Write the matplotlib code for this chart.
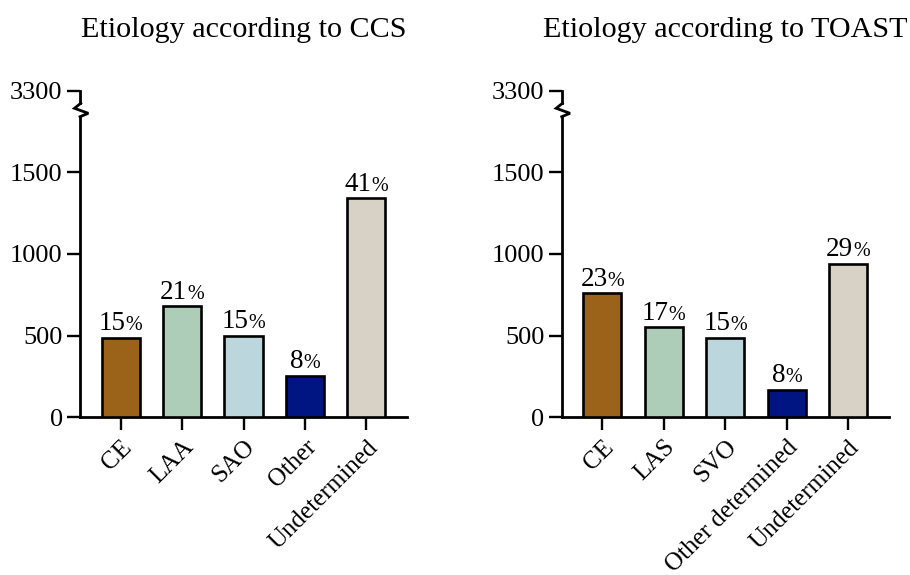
import matplotlib
matplotlib.use('Agg')
import matplotlib.pyplot as plt
from matplotlib.offsetbox import TextArea, HPacker, AnnotationBbox
from matplotlib.lines import Line2D

plt.rcParams['font.family'] = ['Liberation Serif', 'DejaVu Serif']

ccs_labels = ['CE', 'LAA', 'SAO', 'Other', 'Undetermined']
ccs_counts = [487, 679, 499, 255, 1342]
ccs_pct = ['15', '21', '15', '8', '41']

toast_labels = ['CE', 'LAS', 'SVO', 'Other determined', 'Undetermined']
toast_counts = [759, 550, 488, 170, 941]
toast_pct = ['23', '17', '15', '8', '29']

colors = ['#9b621a', '#aecdb9', '#bcd6de', '#001482', '#d8d1c5']

W, H = 910, 575
fig = plt.figure(figsize=(W / 100, H / 100), dpi=100)

LW = 2.0
FS = 19


def panel(x_px, title, labels, counts, pct):
    w_px = 327
    y0 = 1 - 417.3 / H
    y1 = 1 - 116.7 / H
    ax = fig.add_axes([x_px / W, y0, w_px / W, y1 - y0])
    ax.bar(range(len(counts)), counts, width=0.62, color=colors,
           edgecolor='black', linewidth=1.9, zorder=3)
    ax.set_xlim(-0.66, 4.66)
    ax.set_ylim(0, 1840)
    ax.set_yticks([0, 500, 1000, 1500])
    ax.set_xticks(range(len(labels)))
    ax.set_xticklabels(labels, rotation=45, ha='right', va='top',
                       rotation_mode='anchor', fontsize=18)
    for s in ['top', 'right']:
        ax.spines[s].set_visible(False)
    for s in ['left', 'bottom']:
        ax.spines[s].set_linewidth(LW)
    ax.tick_params(axis='both', width=1.7, length=9.5)
    ax.tick_params(axis='y', pad=3, labelsize=FS)
    ax.tick_params(axis='x', pad=4)

    for i, (c, p) in enumerate(zip(counts, pct)):
        box = HPacker(children=[TextArea(p, textprops=dict(size=19.5)),
                                TextArea('%', textprops=dict(size=14.5))],
                      align='baseline', pad=0, sep=0)
        ab = AnnotationBbox(box, (i, c), xybox=(0, 1), xycoords='data',
                            boxcoords='offset points', box_alignment=(0.5, 0),
                            frameon=False, pad=0, annotation_clip=False)
        ax.add_artist(ab)

    # small upper segment of the broken axis
    top_px, bot_px = 90.7, 103.3
    axt = fig.add_axes([x_px / W, 1 - bot_px / H, w_px / W, (bot_px - top_px) / H])
    axt.patch.set_visible(False)
    axt.set_ylim(3200, 3300)
    axt.set_yticks([3300])
    axt.set_xticks([])
    for s in ['top', 'right', 'bottom']:
        axt.spines[s].set_visible(False)
    axt.spines['left'].set_linewidth(LW)
    axt.tick_params(axis='y', width=1.7, length=9.5, labelsize=FS, pad=3)

    # zigzag break mark
    pts = [(0.7, 103.3), (-5.5, 108.3), (8.3, 113.3), (0, 116.7)]
    xs = [(x_px + dx) / W for dx, _ in pts]
    ys = [1 - py / H for _, py in pts]
    fig.add_artist(Line2D(xs, ys, color='black', linewidth=LW,
                          transform=fig.transFigure, solid_joinstyle='miter'))

    fig.text((x_px + w_px / 2) / W, 1 - 37 / H, title, ha='center',
             va='baseline', fontsize=21.7)


panel(80, 'Etiology according to CCS', ccs_labels, ccs_counts, ccs_pct)
panel(561.7, 'Etiology according to TOAST', toast_labels, toast_counts, toast_pct)

fig.savefig('out.png', dpi=100)
